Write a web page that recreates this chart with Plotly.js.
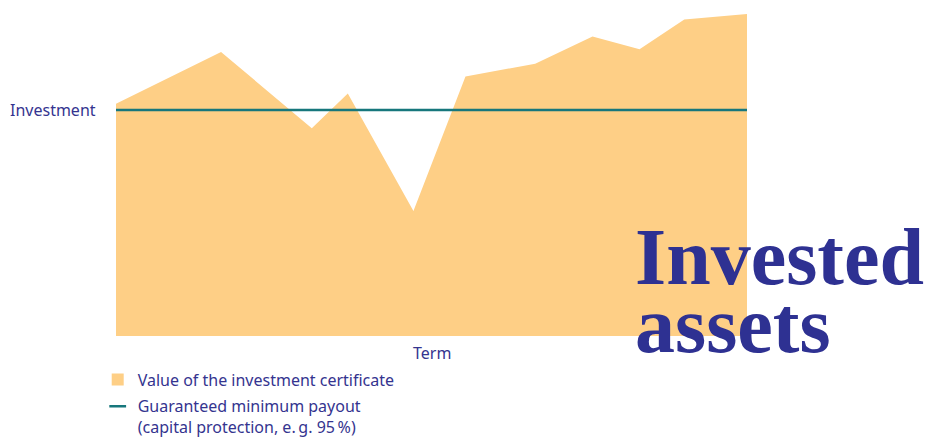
<!DOCTYPE html>
<html>
<head>
<meta charset="utf-8">
<script src="https://cdn.plot.ly/plotly-3.0.1.min.js"></script>
<style>html,body{margin:0;padding:0;background:#fff;}#chart{width:927px;height:437px;}</style>
</head>
<body>
<div id="chart"></div>
<script>
// Term (relative time units) and value of the certificate (investment = 100)
const term = [0, 10.5, 19.57, 23.17, 29.73, 34.93, 41.9, 47.63, 52.33, 56.8, 63.07];
const certificateValue = [102.8, 125.7, 92.0, 107.3, 55.3, 114.9, 120.5, 132.6, 126.9, 140.1, 142.5];
const guaranteedTerm = [0, 63.07];
const guaranteedValue = [100, 100];
const investmentLevel = 100;
const seriesNames = ['Value of the investment certificate', 'Guaranteed minimum payout<br>(capital protection, e.\u2009g. 95\u2009%)'];

const ORANGE = '#fecf86';
const TEAL = '#17777c';
const INK = '#2e3192';
const TXT = '#34348f';
const FONT = 'Noto Sans, Open Sans, sans-serif';

const traces = [
  {x: term, y: certificateValue, type: 'scatter', mode: 'lines', fill: 'tozeroy',
   fillcolor: ORANGE, line: {width: 0, color: ORANGE}, showlegend: false, hoverinfo: 'x+y'},
  {x: guaranteedTerm, y: guaranteedValue, type: 'scatter', mode: 'lines',
   line: {width: 2.5, color: TEAL}, showlegend: false, hoverinfo: 'y'},
  // legend entries
  {x: [null], y: [null], type: 'scatter', mode: 'markers', name: seriesNames[0], legendgroup: 'a',
   marker: {symbol: 'square', size: 12, color: ORANGE}},
  {x: [null], y: [null], type: 'scatter', mode: 'markers', name: seriesNames[1], legendgroup: 'b',
   marker: {symbol: 'line-ew-open', size: 12, color: TEAL, line: {width: 2.5, color: TEAL}}}
];

const layout = {
  width: 927, height: 437,
  margin: {l: 116, r: 180, t: 5, b: 101, autoexpand: false},
  paper_bgcolor: '#ffffff', plot_bgcolor: '#ffffff',
  font: {family: FONT, size: 16, color: TXT},
  xaxis: {range: [0, 63.07], showgrid: false, zeroline: false, showline: false,
          showticklabels: false, ticks: '', fixedrange: true},
  yaxis: {range: [0, 146.5], showgrid: false, zeroline: false, showline: false,
          showticklabels: false, ticks: '', fixedrange: true},
  showlegend: true,
  legend: {x: -0.029, xanchor: 'left', y: -0.08, yanchor: 'top', orientation: 'v',
           valign: 'top', traceorder: 'grouped', tracegroupgap: 3, itemclick: false,
           font: {family: FONT, size: 16, color: TXT}, bgcolor: 'rgba(0,0,0,0)'},
  annotations: [
    {text: 'Investment', xref: 'paper', yref: 'y', x: 0, y: investmentLevel, xanchor: 'right',
     yanchor: 'middle', xshift: -18, showarrow: false, font: {family: FONT, size: 16, color: TXT}},
    {text: 'Term', xref: 'paper', yref: 'paper', x: 0.5, y: -0.052, xanchor: 'center',
     yanchor: 'middle', showarrow: false, font: {family: FONT, size: 16, color: TXT}},
    {text: '<b>Invested</b>', xref: 'paper', yref: 'paper', x: 0.82, y: 0.238, xanchor: 'left',
     yanchor: 'middle', showarrow: false,
     font: {family: 'Liberation Serif, DejaVu Serif, serif', size: 80, color: INK}},
    {text: '<b>assets</b>', xref: 'paper', yref: 'paper', x: 0.82, y: 0.032, xanchor: 'left',
     yanchor: 'middle', showarrow: false,
     font: {family: 'Liberation Serif, DejaVu Serif, serif', size: 80, color: INK}}
  ]
};

Plotly.newPlot('chart', traces, layout, {staticPlot: true, displayModeBar: false});
</script>
</body>
</html>
